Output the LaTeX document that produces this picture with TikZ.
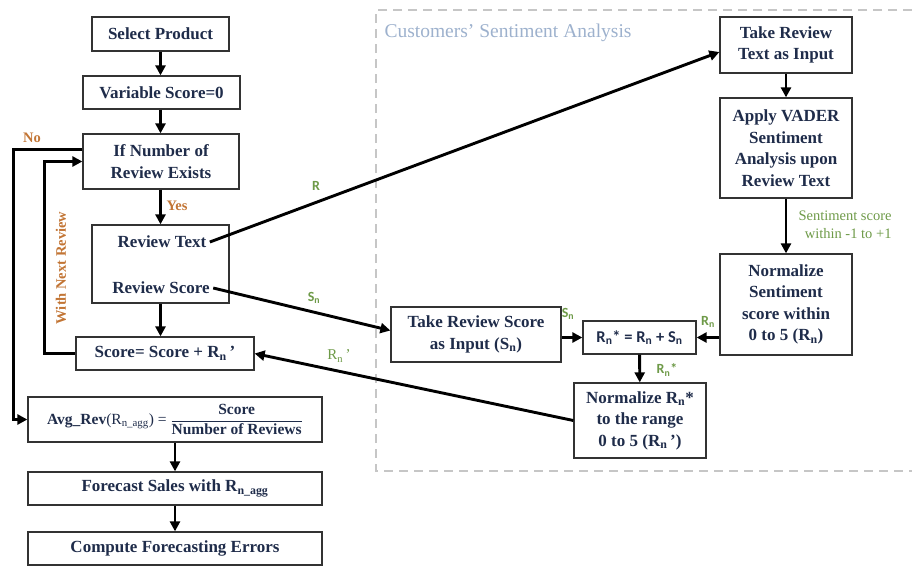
\documentclass[tikz,border=0pt]{standalone}
\usepackage{amsmath}
\usepackage{fontspec}
\setmainfont{Liberation Serif}
\newfontfamily\labelfont{Carlito}
\usepackage{xcolor}
\usetikzlibrary{arrows.meta}
\definecolor{boxtext}{HTML}{1F2C4A}
\definecolor{lblgreen}{HTML}{6E9A48}
\definecolor{lblorange}{HTML}{C27535}
\definecolor{titleblue}{HTML}{9DB1CD}
\newcommand{\sub}[1]{\textsubscript{#1}}

\begin{document}
\begin{tikzpicture}[x=1pt,y=-1pt,
    box/.style={draw=black!80, line width=1.3pt, text=boxtext, align=center,
        inner sep=0pt, font=\fontsize{17}{21.5}\selectfont\bfseries},
    boxtxt/.style={text=boxtext, font=\fontsize{17}{21.5}\selectfont\bfseries},
    flow/.style={line width=2.9pt, -{Triangle[length=10pt,width=10pt]}},
    glabel/.style={text=lblgreen, font=\labelfont\fontsize{14}{16}\selectfont\bfseries},
    olabel/.style={text=lblorange, font=\fontsize{14.5}{16}\selectfont\bfseries}]
    \useasboundingbox (0,0) rectangle (912,566);

    \draw[gray!45, line width=1.2pt, dash pattern=on 9pt off 6pt]
        (912,10) -- (376,10) -- (376,471) -- (912,471);
    \node[anchor=west, text=titleblue, font=\fontsize{19.5}{22}\selectfont] (title) at (381,33) {Customers’ Sentiment Analysis};

    \node[box, minimum width=137pt, minimum height=34pt] (sel) at (160.5,34) {Select Product};
    \node[box, minimum width=157pt, minimum height=33pt] (var) at (161.5,92.5) {Variable Score=0};
    \node[box, minimum width=156pt, minimum height=55pt] (ifrev) at (161,161.5) {If Number of\\Review Exists};
    \node[box, minimum width=137pt, minimum height=78pt] (rev) at (160.5,264) {};
    \node[boxtxt] (revtext) at (162,242) {Review Text};
    \node[boxtxt] (revscore) at (161,288) {Review Score};
    \node[box, minimum width=178pt, minimum height=33pt] (score) at (165,353.5) {Score= Score + R\sub{n}\,\textquoteright};
    \node[box, minimum width=294pt, minimum height=45pt, font=\fontsize{15.5}{17}\selectfont\bfseries] (avg) at (175,419.5)
        {Avg\_Rev{\mdseries(R\sub{n\_agg}) =} $\dfrac{\mbox{Score}}{\mbox{Number of Reviews}}$};
    \node[box, minimum width=294pt, minimum height=33pt] (fc) at (175,488.5) {Forecast Sales with R\sub{n\_agg}};
    \node[box, minimum width=294pt, minimum height=33pt] (err) at (175,548.5) {Compute Forecasting Errors};

    \node[box, minimum width=132pt, minimum height=56pt] (tin) at (786,45) {Take Review\\Text as Input};
    \node[box, minimum width=132pt, minimum height=100pt] (vader) at (786,148) {Apply VADER\\Sentiment\\Analysis upon\\Review Text};
    \node[box, minimum width=132pt, minimum height=101pt] (norms) at (786,304.5) {Normalize\\Sentiment\\score within\\0 to 5 (R\sub{n})};
    \node[box, minimum width=170pt, minimum height=55pt] (tsin) at (476,334.5) {Take Review Score\\as Input (S\sub{n})};
    \node[box, minimum width=113pt, minimum height=33pt, font=\labelfont\fontsize{16.5}{19}\selectfont\bfseries] (rstar) at (639.5,337.5)
        {R\sub{n}* = R\sub{n} + S\sub{n}};
    \node[box, minimum width=132pt, minimum height=75pt] (normr) at (640,420.5) {Normalize R\sub{n}*\\to the range\\0 to 5 (R\sub{n}\,\textquoteright)};

    \draw[flow] (sel) -- (sel |- var.north);
    \draw[flow] (sel |- var.south) -- (sel |- ifrev.north);
    \draw[flow] (sel |- ifrev.south) -- (sel |- rev.north);
    \draw[flow] (rev) -- (score.north -| rev);
    \draw[flow] (avg) -- (fc);
    \draw[flow] (fc) -- (err);
    \draw[flow] ([yshift=12pt]ifrev.west) -- ++(-69,0) |- (avg.west);
    \draw[flow] (score.west) -- ++(-31,0) |- (ifrev.west);
    \draw[flow] (revtext.east) -- ([yshift=-7pt]tin.west);
    \draw[flow] (revscore.east) -- ([yshift=4pt]tsin.west);
    \draw[flow] (tin) -- (vader);
    \draw[flow] (vader) -- (norms);
    \draw[flow] (norms.west |- rstar) -- (rstar.east);
    \draw[flow] (tsin.east |- rstar) -- (rstar.west);
    \draw[flow] (rstar) -- (normr);
    \draw[flow] (normr.west) -- (score.east);

    \node[olabel] (yes) at (177,206) {Yes};
    \node[olabel] (no) at (32,138) {No};
    \node[olabel, rotate=90] (next) at (61,268) {With Next Review};
    \node[glabel] (lr) at (316,186) {R};
    \node[glabel] (lsn) at (314,298) {S\sub{n}};
    \node[text=lblgreen, font=\fontsize{15}{17}\selectfont] (lrn) at (339,356) {R\sub{n}\,\textquoteright};
    \node[text=lblgreen, align=right, font=\fontsize{14.5}{18}\selectfont] (lsent) at (845,225) {Sentiment score\\within -1 to +1};
    \node[glabel] (lsn2) at (568,314) {S\sub{n}};
    \node[glabel] (lrn2) at (708,322) {R\sub{n}};
    \node[glabel] (lrs) at (667,370) {R\sub{n}*};
\end{tikzpicture}
\end{document}
